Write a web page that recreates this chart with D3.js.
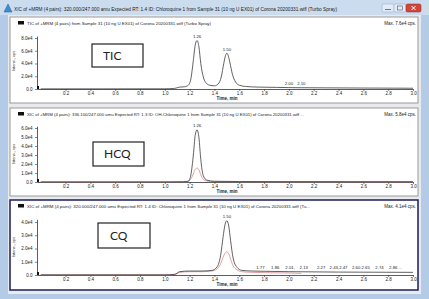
<!DOCTYPE html>
<html>
<head>
<meta charset="utf-8">
<script src="https://cdn.jsdelivr.net/npm/d3@7"></script>
<style>
  html, body { margin: 0; padding: 0; background: #fff; }
  svg { display: block; font-family: "Liberation Sans", Arial, sans-serif; }
</style>
</head>
<body>
<div id="chart"></div>
<script>
// ---- Data (intensities in units of 1e4 cps, time in min) ----
const xTicks = [0.2, 0.4, 0.6, 0.8, 1.0, 1.2, 1.4, 1.6, 1.8, 2.0, 2.2, 2.4, 2.6, 2.8, 3.0];

// TIC panel
const ticTime = [0, 0.5, 1.0, 1.08, 1.12, 1.16, 1.19, 1.21, 1.23, 1.245, 1.26, 1.275, 1.29, 1.31, 1.33, 1.36, 1.40, 1.43, 1.455, 1.475, 1.49, 1.50, 1.51, 1.525, 1.545, 1.57, 1.60, 1.65, 1.75, 1.9, 2.0, 2.1, 2.3, 2.6, 3.0];
const ticIntensity = [0.02, 0.02, 0.03, 0.1, 0.3, 0.35, 0.6, 1.6, 4.5, 6.9, 7.6, 6.6, 4.0, 1.9, 1.0, 0.6, 0.5, 0.8, 1.9, 4.0, 5.3, 5.6, 5.3, 4.1, 2.3, 1.1, 0.6, 0.4, 0.3, 0.25, 0.22, 0.2, 0.18, 0.15, 0.12];
const ticYTicks = [0, 2, 4, 6, 8];
const ticPeakTime = [1.26, 1.50, 2.00, 2.10];
const ticPeakHeight = [7.6, 5.6, 0.3, 0.3];
const ticPeakText = ["1.26", "1.50", "2.00", "2.10"];

// HCQ panel
const hcqTime = [0, 1.0, 1.15, 1.19, 1.21, 1.23, 1.245, 1.26, 1.275, 1.29, 1.31, 1.34, 1.4, 1.6, 2.0, 3.0];
const hcqIntensity = [0.01, 0.01, 0.03, 0.1, 0.8, 3.0, 5.2, 5.8, 4.9, 2.5, 0.7, 0.2, 0.08, 0.05, 0.04, 0.03];
const hcqIon2 = [0.01, 0.01, 0.02, 0.08, 0.35, 0.9, 1.4, 1.55, 1.35, 0.8, 0.3, 0.1, 0.05, 0.03, 0.02, 0.02];
const hcqYTicks = [0, 1, 2, 3, 4, 5, 6];
const hcqPeakTime = [1.26];
const hcqPeakHeight = [5.8];
const hcqPeakText = ["1.26"];

// CQ panel
const cqTime = [0, 1.0, 1.08, 1.12, 1.2, 1.3, 1.38, 1.42, 1.45, 1.47, 1.485, 1.50, 1.515, 1.53, 1.55, 1.58, 1.62, 1.7, 1.8, 2.0, 2.4, 3.0];
const cqIntensity = [0.01, 0.01, 0.05, 0.25, 0.3, 0.3, 0.35, 0.6, 1.5, 2.9, 3.8, 4.1, 3.7, 2.6, 1.3, 0.6, 0.35, 0.3, 0.28, 0.25, 0.22, 0.2];
const cqIon2Time = [0, 1.0, 1.08, 1.12, 1.2, 1.3, 1.38, 1.42, 1.45, 1.47, 1.485, 1.50, 1.515, 1.53, 1.55, 1.58, 1.62, 1.7, 1.8, 2.0, 2.1];
const cqIon2 = [0.01, 0.01, 0.04, 0.2, 0.25, 0.25, 0.3, 0.45, 0.85, 1.35, 1.65, 1.75, 1.6, 1.2, 0.7, 0.4, 0.25, 0.2, 0.18, 0.15, 0.12];
const cqYTicks = [0, 1, 2, 3, 4];
const cqPeakTime = [1.50, 1.77, 1.89, 2.01, 2.12, 2.26, 2.40, 2.58, 2.73, 2.86];
const cqPeakHeight = [4.1, 0.3, 0.3, 0.3, 0.3, 0.3, 0.3, 0.3, 0.3, 0.3];
const cqPeakText = ["1.50", "1.77", "1.86", "2.01,", "2.13", "2.27", "2.43,2.47", "2.60 2.65", "2.74", "2.86 ..."];

const windowTitle = "XIC of +MRM (4 pairs): 320.000/247.000 amu Expected RT: 1.4 ID: Chloroquine 1 from Sample 31 (10 ng U EX01) of Corona 20200331.wiff (Turbo Spray)";

// ---- Layout ----
const width = 429, height = 299;

const svg = d3.select("#chart")
  .append("svg")
  .attr("width", width)
  .attr("height", height);

// window frame + title bar
svg.append("rect").attr("width", width).attr("height", height).attr("fill", "#b3cbe6");
svg.append("rect").attr("x", 0).attr("y", 0).attr("width", width).attr("height", 15).attr("fill", "#cbdcef");
svg.append("rect").attr("x", 8).attr("y", 15).attr("width", 413).attr("height", 279).attr("fill", "#e8eaee");

// title icon
svg.append("path").attr("d", "M4,12 L8,4 L12,12 Z").attr("fill", "#3b8fd0").attr("stroke", "#1f5f98").attr("stroke-width", 0.5);
svg.append("text")
  .attr("x", 14).attr("y", 10.5)
  .attr("font-size", 5).attr("fill", "#222")
  .attr("textLength", 323).attr("lengthAdjust", "spacingAndGlyphs")
  .text(windowTitle);

// window buttons
const btns = svg.append("g");
btns.append("rect").attr("x", 382).attr("y", 4).attr("width", 12).attr("height", 8).attr("rx", 1.5)
  .attr("fill", "#e3ecf6").attr("stroke", "#8aa5c4").attr("stroke-width", 0.5);
btns.append("rect").attr("x", 394).attr("y", 4).attr("width", 12).attr("height", 8).attr("rx", 1.5)
  .attr("fill", "#e3ecf6").attr("stroke", "#8aa5c4").attr("stroke-width", 0.5);
btns.append("rect").attr("x", 406).attr("y", 4).attr("width", 15).attr("height", 8).attr("rx", 1.5)
  .attr("fill", "#d2463a").attr("stroke", "#8c2a22").attr("stroke-width", 0.5);
btns.append("path").attr("d", "M411.5,6 L415.5,10 M415.5,6 L411.5,10").attr("stroke", "#fff").attr("stroke-width", 1);
btns.append("path").attr("d", "M385,9.5 L391,9.5").attr("stroke", "#556").attr("stroke-width", 0.8);
btns.append("rect").attr("x", 397.5).attr("y", 6).attr("width", 5).attr("height", 4).attr("fill", "none").attr("stroke", "#556").attr("stroke-width", 0.6);

// x scale shared by all panels
const x = d3.scaleLinear().domain([-0.03, 3.0]).range([37, 413]);

const panels = [
  {
    top: 17, h: 86, axisY: 89, unit: 6.375, yMax: 8.3, border: "#9a9a9a", bw: 1,
    header: "TIC of +MRM (4 pairs) from Sample 31 (10 ng U EX01) of Corona 20200331.wiff (Turbo Spray)",
    headerLen: 184, maxText: "Max. 7.6e4 cps.",
    traces: [{ t: ticTime, v: ticIntensity, color: "#3a3a3a" }],
    yTicks: ticYTicks, peaks: [ticPeakTime, ticPeakHeight, ticPeakText],
    box: { x: 92, y: 44, w: 51, h: 23, label: "TIC", tx: 103 }
  },
  {
    top: 108, h: 88, axisY: 182, unit: 9, yMax: 6.2, border: "#9a9a9a", bw: 1,
    header: "XIC of +MRM (4 pairs): 336.100/247.000 amu Expected RT: 1.3 ID: OH-Chloroquine 1 from Sample 31 (10 ng U EX01) of Corona 20200331.wiff ...",
    headerLen: 277, maxText: "Max. 5.8e4 cps.",
    traces: [
      { t: hcqTime, v: hcqIon2, color: "#d9878d" },
      { t: hcqTime, v: hcqIntensity, color: "#3a3a3a" }
    ],
    yTicks: hcqYTicks, peaks: [hcqPeakTime, hcqPeakHeight, hcqPeakText],
    box: { x: 93, y: 142, w: 51, h: 24, label: "HCQ", tx: 104 }
  },
  {
    top: 200, h: 90, axisY: 275, unit: 13.25, yMax: 4.2, border: "#1d1d5c", bw: 1.5,
    header: "XIC of +MRM (4 pairs): 320.000/247.000 amu Expected RT: 1.4 ID: Chloroquine 1 from Sample 31 (10 ng U EX01) of Corona 20200331.wiff (Tu...",
    headerLen: 283, maxText: "Max. 4.1e4 cps.",
    traces: [
      { t: cqIon2Time, v: cqIon2, color: "#d9878d" },
      { t: cqTime, v: cqIntensity, color: "#3a3a3a" }
    ],
    yTicks: cqYTicks, peaks: [cqPeakTime, cqPeakHeight, cqPeakText],
    box: { x: 98, y: 223, w: 52, h: 25, label: "CQ", tx: 110 }
  }
];

panels.forEach((p) => {
  const g = svg.append("g");

  // panel frame
  g.append("rect")
    .attr("x", 10).attr("y", p.top).attr("width", 408).attr("height", p.h)
    .attr("fill", "#fff").attr("stroke", p.border).attr("stroke-width", p.bw);

  // header
  g.append("rect").attr("x", 18).attr("y", p.top + 4).attr("width", 6).attr("height", 3.5).attr("fill", "#111");
  g.append("text")
    .attr("x", 27).attr("y", p.top + 7.5)
    .attr("font-size", 4.3).attr("fill", "#222")
    .attr("textLength", p.headerLen).attr("lengthAdjust", "spacingAndGlyphs")
    .text(p.header);
  g.append("text")
    .attr("x", 416).attr("y", p.top + 7.5)
    .attr("text-anchor", "end")
    .attr("font-size", 4.5).attr("fill", "#222")
    .text(p.maxText);

  const y = d3.scaleLinear()
    .domain([0, p.yMax])
    .range([p.axisY, p.axisY - p.yMax * p.unit]);

  // axes
  const xAxis = d3.axisBottom(x)
    .tickValues(xTicks)
    .tickSize(2)
    .tickSizeOuter(0)
    .tickFormat(d3.format(".1f"));
  const xg = g.append("g")
    .attr("transform", `translate(0, ${p.axisY})`)
    .call(xAxis);

  const yAxis = d3.axisLeft(y)
    .tickValues(p.yTicks)
    .tickSize(2)
    .tickSizeOuter(0)
    .tickFormat((d) => (d === 0 ? "0.0" : d.toFixed(1) + "e4"));
  const yg = g.append("g")
    .attr("transform", `translate(37, 0)`)
    .call(yAxis);

  [xg, yg].forEach((a) => {
    a.selectAll("text").attr("font-size", 4.5).attr("fill", "#222")
      .attr("font-family", "Liberation Sans, Arial, sans-serif");
    a.selectAll("line").attr("stroke", "#333").attr("stroke-width", 0.6);
    a.select(".domain").attr("stroke", "#333").attr("stroke-width", 0.8);
  });
  xg.selectAll("text").attr("dy", "0.3em");
  yg.selectAll("text").attr("dx", "0.1em");

  // origin marker
  g.append("rect").attr("x", 37).attr("y", p.axisY - 3).attr("width", 2).attr("height", 3).attr("fill", "#111");

  // axis titles
  g.append("text")
    .attr("transform", `translate(15, ${p.axisY - 28}) rotate(-90)`)
    .attr("text-anchor", "middle")
    .attr("font-size", 4).attr("fill", "#222")
    .text("Intens., cps");
  g.append("text")
    .attr("x", 227).attr("y", p.axisY + 11)
    .attr("text-anchor", "middle")
    .attr("font-size", 4.5).attr("font-weight", "bold").attr("fill", "#222")
    .text("Time, min");

  // traces
  p.traces.forEach((tr) => {
    const pts = tr.t.map((t, i) => [t, tr.v[i]]);
    g.append("path")
      .datum(pts)
      .attr("fill", "none")
      .attr("stroke", tr.color)
      .attr("stroke-width", 0.8)
      .attr("d", d3.line()
        .x((d) => x(d[0]))
        .y((d) => y(d[1]))
        .curve(d3.curveMonotoneX));
  });

  // peak labels
  const [pt, ph, ptext] = p.peaks;
  g.selectAll(".peak")
    .data(pt)
    .enter()
    .append("text")
    .attr("x", (d) => x(d))
    .attr("y", (d, i) => y(ph[i]) - 2.5)
    .attr("text-anchor", "middle")
    .attr("font-size", 4.3).attr("fill", "#222")
    .text((d, i) => ptext[i]);

  // annotation box
  g.append("rect")
    .attr("x", p.box.x).attr("y", p.box.y).attr("width", p.box.w).attr("height", p.box.h)
    .attr("fill", "#fff").attr("stroke", "#222").attr("stroke-width", 1.2);
  g.append("text")
    .attr("x", p.box.tx).attr("y", p.box.y + p.box.h / 2 + 4)
    .attr("font-family", "Lato, 'Open Sans', sans-serif")
    .attr("font-size", 12).attr("fill", "#222")
    .text(p.box.label);
});
</script>
</body>
</html>
